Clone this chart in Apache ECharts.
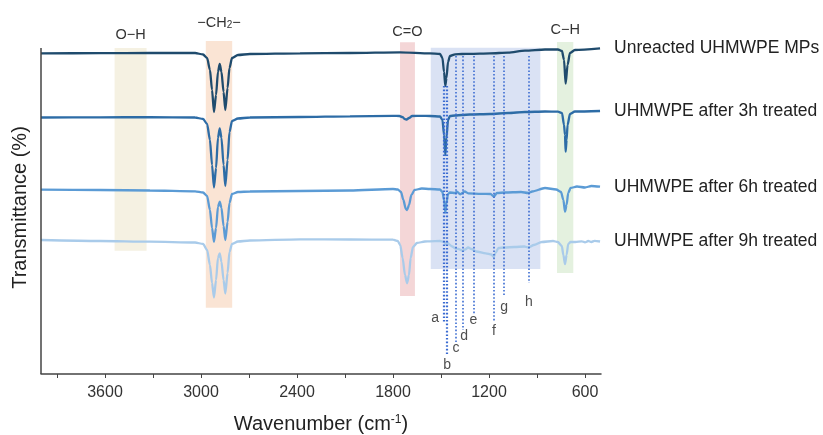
<!DOCTYPE html>
<html>
<head>
<meta charset="utf-8">
<script src="https://cdn.jsdelivr.net/npm/echarts@6/dist/echarts.min.js"></script>
<style>
  html, body { margin: 0; padding: 0; background: #ffffff; }
  #chart { width: 823px; height: 435px; }
</style>
</head>
<body>
<div id="chart"></div>
<script>
// FTIR spectra of UHMWPE microplastics, stacked with vertical offsets.
const seriesNames = [
  'Unreacted UHMWPE MPs',
  'UHMWPE after 3h treated',
  'UHMWPE after 6h treated',
  'UHMWPE after 9h treated'
];

// [wavenumber (cm-1), transmittance (relative %)]
const spectrumUnreacted = [
  [4000, 99.7], [3631, 99.8], [3319, 100], [3037, 100], [2987, 98.5], [2962, 95],
  [2944, 83], [2931, 63], [2919, 41], [2906, 58], [2894, 81], [2883, 89], [2872, 81],
  [2859, 61], [2848, 43], [2834, 65], [2822, 85], [2806, 95], [2769, 98], [2694, 99],
  [2381, 99.7], [2069, 100], [1756, 100.7], [1569, 99.7], [1506, 99], [1491, 95],
  [1481, 81], [1473, 67], [1466, 75], [1456, 91], [1444, 97], [1412, 98.7], [1369, 99],
  [1319, 99.2], [1194, 99.7], [1081, 100.3], [975, 102.3], [850, 103.5], [769, 103.5],
  [744, 102], [731, 93], [721, 69.3], [709, 88], [694, 100], [663, 103], [506, 104.7]
];
const spectrum3h = [
  [4000, 99.5], [3631, 99.7], [3319, 99.8], [3037, 99.5], [2987, 98], [2962, 93],
  [2944, 77], [2931, 52], [2919, 29.5], [2906, 49], [2894, 79], [2883, 88.5], [2872, 79],
  [2859, 52], [2848, 31], [2834, 57], [2822, 85], [2806, 96], [2769, 98.5], [2694, 99.5],
  [2381, 100], [2069, 100.7], [1800, 101.2], [1760, 101], [1740, 99.8], [1725, 97.8],
  [1715, 97.5], [1700, 99], [1680, 101], [1620, 101.2], [1569, 101], [1506, 100.5],
  [1491, 97], [1481, 82], [1473, 62], [1466, 79], [1456, 97], [1444, 101], [1412, 101.5],
  [1369, 102], [1319, 102.5], [1194, 103], [1081, 104], [975, 105], [850, 105.5],
  [769, 105.3], [744, 104], [731, 92], [725, 82], [721, 65.3], [715, 77], [709, 92],
  [694, 103], [663, 105.5], [506, 106]
];
const spectrum6h = [
  [4000, 100.3], [3631, 100], [3319, 99.5], [3037, 98.7], [2987, 97.5], [2962, 94],
  [2944, 80], [2931, 62], [2919, 48.3], [2906, 62], [2894, 83], [2883, 88.3], [2872, 82],
  [2859, 64], [2848, 50], [2834, 68], [2822, 87], [2806, 96], [2769, 98], [2694, 98.5],
  [2381, 99], [2069, 99.5], [1800, 101], [1770, 100.5], [1750, 98], [1735, 90],
  [1720, 81], [1712, 80], [1700, 85], [1685, 95], [1665, 100], [1620, 101.5],
  [1569, 101], [1506, 100.5], [1491, 98], [1481, 90], [1473, 77.3], [1466, 87],
  [1456, 96], [1444, 97.5], [1412, 97], [1400, 98.3], [1380, 95.7], [1352, 98.5],
  [1330, 96.7], [1250, 96.2], [1190, 96], [1170, 93.5], [1150, 97], [1100, 97.5],
  [1000, 98], [955, 97], [930, 98.5], [850, 102], [780, 100.5], [750, 98], [735, 90],
  [725, 78.3], [715, 85], [705, 97], [690, 102], [650, 103.5], [600, 102.5],
  [560, 104], [506, 103.3]
];
const spectrum9h = [
  [4000, 100], [3631, 99], [3319, 98.3], [3037, 97.5], [2987, 96], [2962, 90],
  [2944, 75], [2931, 57], [2919, 42.5], [2906, 60], [2894, 82], [2883, 86.7], [2872, 78],
  [2859, 60], [2848, 46.5], [2834, 67], [2822, 88], [2806, 96], [2769, 98.5], [2694, 99.5],
  [2381, 100.7], [2069, 100.5], [1800, 100.3], [1770, 99], [1755, 95], [1740, 82],
  [1725, 65], [1712, 56.7], [1700, 65], [1690, 82], [1675, 93], [1650, 97], [1600, 98.5],
  [1569, 98.7], [1506, 99], [1480, 98], [1470, 96], [1460, 97], [1430, 93.5],
  [1408, 91.5], [1390, 91], [1375, 90], [1366, 89], [1350, 90.5], [1330, 92.5],
  [1310, 91], [1280, 88.5], [1220, 86.7], [1185, 85.5], [1170, 83], [1160, 87],
  [1140, 92], [1105, 92.5], [1040, 93], [980, 93.5], [953, 92.5], [920, 95], [870, 98],
  [800, 99], [770, 98], [745, 94], [735, 85], [725, 76], [715, 85], [705, 96], [690, 98],
  [660, 98], [620, 98.7], [600, 97.7], [580, 99], [560, 98], [540, 99.2], [506, 98.5]
];
const spectra = [spectrumUnreacted, spectrum3h, spectrum6h, spectrum9h];

// Vertical offset applied to each spectrum so they stack without overlap
const stackOffsets = [221, 157, 84, 34];

// Axis ticks (cm-1)
const tickValues = [3900, 3600, 3300, 3000, 2700, 2400, 2100, 1800, 1500, 1200, 900, 600];
const tickLabels = [3600, 3000, 2400, 1800, 1200, 600];

// Functional-group bands: label and [from, to] in cm-1
const bandNames = ['O−H', '−CH{sub|2}−', 'C=O', '', 'C−H'];
const bandRanges = [[3540, 3340], [2970, 2805], [1756, 1663], [1564, 879], [775, 673]];

// Assigned fingerprint peaks (cm-1)
const peakLetters = ['a', 'b', 'c', 'd', 'e', 'f', 'g', 'h'];
const peakWavenumbers = [1480, 1462, 1408, 1366, 1298, 1170, 1105, 953];

// ---- styling / layout ----
const FONT = '"Liberation Sans", Arial, sans-serif';
const Y_TOP = 326;          // top of the drawn y axis line
const lineColors = ['#1f4b6d', '#2d6ca6', '#5b9bd5', '#a9cbea'];
const bandColors = ['#f5f1e2', '#fae4d4', '#f4d6d7', '#dae2f4', '#e4f1df'];
const bandExtents = [[326, 123.3], [333, 66.3], [331.7, 78], [326.3, 105], [332, 101]];
const bandLabelGap = [6, 11, 3, 0, 5];
const peakLineExtents = [[288, 51], [288, 18], [318, 32], [318, 44], [318, 59], [318, 52], [318, 79], [318, 91]];
const peakLabelPos = [[1537, 56], [1461, 9], [1406, 26], [1356, 38], [1298, 54], [1169, 43], [1106, 67], [950, 72]];

const markAreaData = bandRanges.map((r, i) => [
  {
    xAxis: r[0], yAxis: bandExtents[i][0],
    itemStyle: { color: bandColors[i], opacity: 1 },
    label: {
      show: bandNames[i] !== '', position: 'top', distance: bandLabelGap[i],
      formatter: bandNames[i], color: '#333', fontSize: 14.5, fontFamily: FONT,
      rich: { sub: { fontSize: 10, lineHeight: 6, verticalAlign: 'bottom', fontFamily: FONT, color: '#333' } }
    }
  },
  { xAxis: r[1], yAxis: bandExtents[i][1] }
]);

const lineSeries = spectra.map((s, i) => {
  const last = s[s.length - 1];
  return {
    name: seriesNames[i],
    type: 'line',
    data: s.map(p => [p[0], p[1] + stackOffsets[i]]),
    showSymbol: false,
    symbol: 'none',
    smooth: 0.25,
    smoothMonotone: 'x',
    clip: false,
    z: 3,
    lineStyle: { color: lineColors[i], width: 2.3 },
    // series name written just right of the spectrum's last point
    markPoint: {
      silent: true,
      symbol: 'circle',
      symbolSize: 0,
      data: [{ coord: [last[0], last[1] + stackOffsets[i]] }],
      label: {
        show: true, position: 'right', distance: 14, formatter: seriesNames[i],
        color: '#222', fontSize: 17.5, fontFamily: FONT
      }
    },
    markArea: i === 0 ? { silent: true, z: 1, data: markAreaData } : undefined
  };
});

const peakSeries = {
  name: 'peaks',
  type: 'scatter',
  data: peakLetters.map((l, i) => [peakLabelPos[i][0], peakLabelPos[i][1], l]),
  symbolSize: 1,
  itemStyle: { color: 'rgba(0,0,0,0)' },
  clip: false,
  z: 5,
  label: {
    show: true, position: 'inside', formatter: p => p.value[2],
    color: '#222', fontSize: 14, fontFamily: FONT
  },
  markLine: {
    silent: true,
    symbol: 'none',
    label: { show: false },
    z: 4,
    data: peakWavenumbers.map((w, i) => [
      { coord: [w, peakLineExtents[i][0]], lineStyle: { width: i < 2 ? 2.2 : 1.6 } },
      { coord: [w, peakLineExtents[i][1]] }
    ]).concat([[
      // left axis line, drawn only up to the plotted range
      { coord: [4000, 0], lineStyle: { color: '#444', type: 'solid', width: 1.5 } },
      { coord: [4000, Y_TOP] }
    ]]),
    lineStyle: { color: '#3a6bd1', type: [1.6, 2], width: 1.6 }
  }
};

const chart = echarts.init(document.getElementById('chart'), null, { renderer: 'canvas' });
chart.setOption({
  animation: false,
  backgroundColor: '#ffffff',
  grid: { left: 41, right: 222, top: 41, bottom: 61, containLabel: false, outerBoundsMode: 'none' },
  xAxis: {
    type: 'value',
    inverse: true,
    min: 500,
    max: 4000,
    name: 'Wavenumber (cm{sup|-1})',
    nameLocation: 'middle',
    nameGap: 40,
    nameTextStyle: {
      fontSize: 20, color: '#222', fontFamily: FONT,
      rich: { sup: { fontSize: 12, lineHeight: 8, verticalAlign: 'top', color: '#222', fontFamily: FONT } }
    },
    axisLine: { show: true, lineStyle: { color: '#444', width: 1.5 } },
    axisTick: { show: true, inside: false, length: 4, customValues: tickValues, lineStyle: { color: '#444', width: 1 } },
    axisLabel: {
      show: true, customValues: tickLabels, margin: 11, fontSize: 16, color: '#333', fontFamily: FONT,
      formatter: v => String(v)
    },
    splitLine: { show: false }
  },
  yAxis: {
    type: 'value',
    min: 0,
    max: 333,
    name: 'Transmittance (%)',
    nameLocation: 'middle',
    nameGap: 11,
    nameTextStyle: { fontSize: 20, color: '#222', fontFamily: FONT },
    axisLine: { show: false },
    axisTick: { show: false },
    axisLabel: { show: false },
    splitLine: { show: false }
  },
  series: [...lineSeries, peakSeries]
});
</script>
</body>
</html>
